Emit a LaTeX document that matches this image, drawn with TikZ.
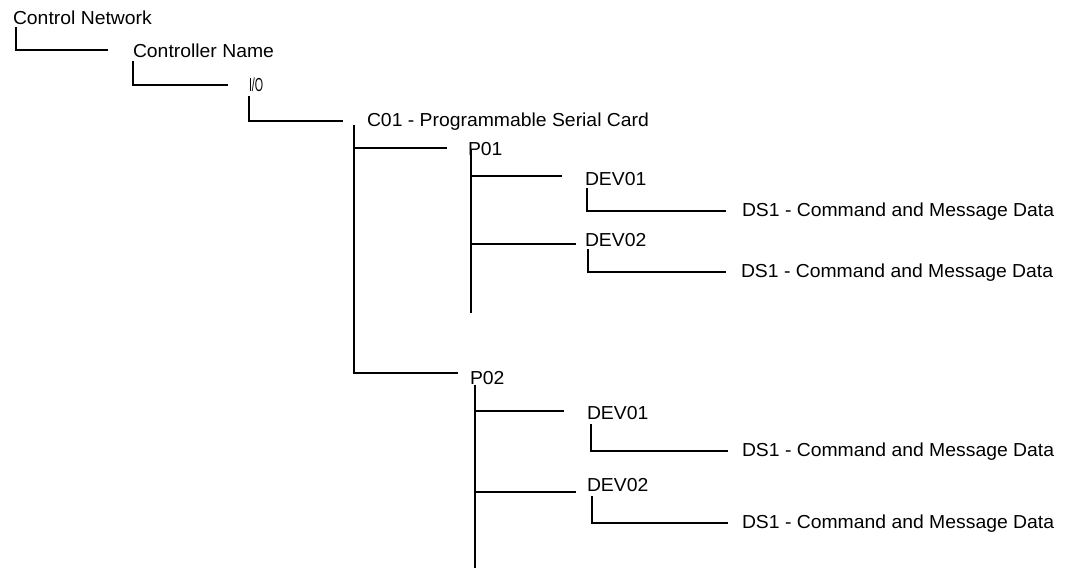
\documentclass[tikz,border=0pt]{standalone}
\usepackage{fontspec}
\usepackage{graphicx}
\setmainfont[FakeStretch=1.03]{Liberation Sans}
\tikzset{
  lbl/.style={anchor=base west, inner sep=0pt, outer sep=0pt, font=\fontsize{18.8}{22}\selectfont, text=black},
  link/.style={draw=black, line width=1.3pt, line cap=rect}
}
\begin{document}
\begin{tikzpicture}[x=1pt,y=-1pt]
\useasboundingbox[fill=white] (0,0) rectangle (1067,567);
% labels
\node[lbl] (cn)  at (13,25)  {Control Network};
\node[lbl] (cnm) at (133,58) {Controller Name};
\node[lbl] (io)  at (249,92) {\scalebox{0.55}[1]{I/O}};
\node[lbl] (c01) at (367,126) {C01 - Programmable Serial Card};
\node[lbl] (p01) at (468,155) {P01};
\node[lbl] (d11) at (585,185) {DEV01};
\node[lbl] (s11) at (742,216) {DS1 - Command and Message Data};
\node[lbl] (d12) at (585,246) {DEV02};
\node[lbl] (s12) at (741,277) {DS1 - Command and Message Data};
\node[lbl] (p02) at (470,384) {P02};
\node[lbl] (d21) at (587,419) {DEV01};
\node[lbl] (s21) at (742,456) {DS1 - Command and Message Data};
\node[lbl] (d22) at (587,491) {DEV02};
\node[lbl] (s22) at (742,528) {DS1 - Command and Message Data};
% free ends
\coordinate (e1) at (107,50);
\coordinate (e2) at (227,85);
\coordinate (e3) at (342,121);
\coordinate (t1a) at (354,126);
\coordinate (e4) at (446,148);
\coordinate (e5) at (457,373);
\coordinate (t2a) at (471,150);
\coordinate (t2b) at (471,312);
\coordinate (e6) at (561,176);
\coordinate (e7) at (575,244);
\coordinate (e8) at (725,211);
\coordinate (e9) at (725,272);
\coordinate (t3a) at (475,386);
\coordinate (t3b) at (475,567);
\coordinate (e10) at (563,411);
\coordinate (e11) at (575,492);
\coordinate (e12) at (727,451);
\coordinate (e13) at (727,523);
% connectors
\draw[link] (cn.base west -| 16,0) ++(0,3) |- (e1);
\draw[link] (cnm.base west) ++(0,4) |- (e2);
\draw[link] (io.base west) ++(0,5) |- (e3);
\draw[link] (t1a) |- (e5);
\draw[link] (t1a |- e4) -- (e4);
\draw[link] (t2a) -- (t2b);
\draw[link] (t2a |- e6) -- (e6);
\draw[link] (t2a |- e7) -- (e7);
\draw[link] (d11.base west) ++(2,4) |- (e8);
\draw[link] (d12.base west) ++(3,4) |- (e9);
\draw[link] (t3a) -- (t3b);
\draw[link] (t3a |- e10) -- (e10);
\draw[link] (t3a |- e11) -- (e11);
\draw[link] (d21.base west) ++(4,6) |- (e12);
\draw[link] (d22.base west) ++(5,6) |- (e13);
\end{tikzpicture}
\end{document}
